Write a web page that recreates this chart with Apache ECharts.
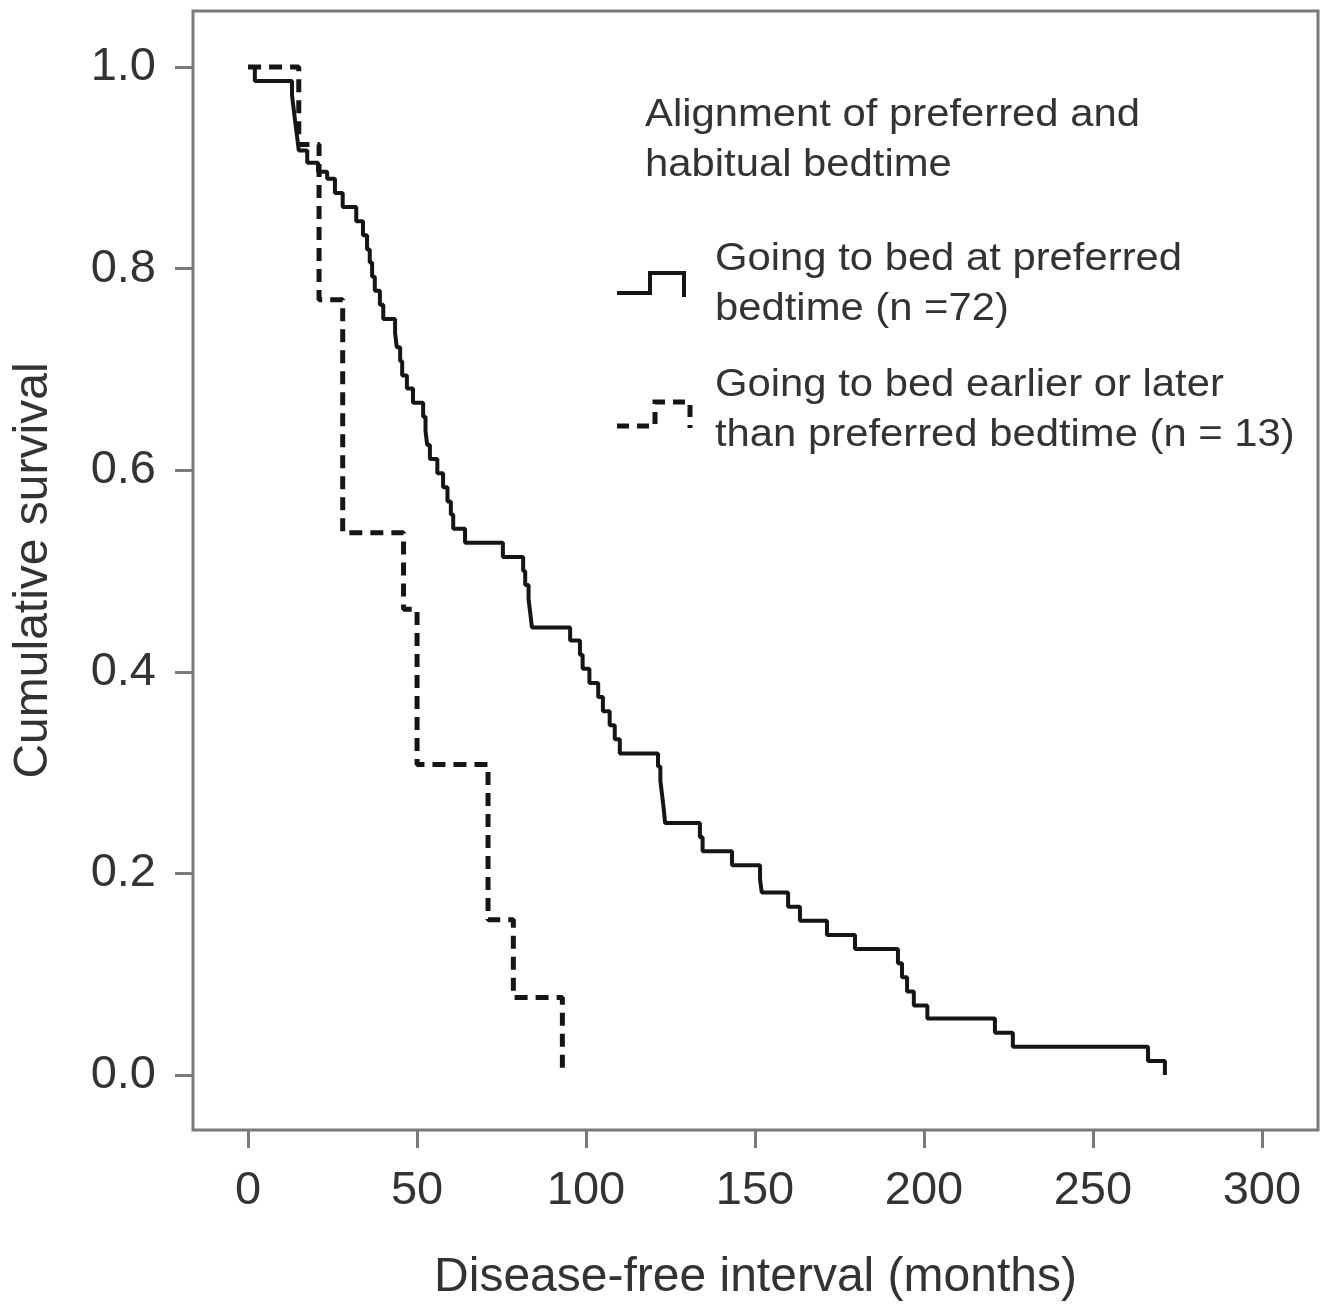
<!DOCTYPE html>
<html>
<head>
<meta charset="utf-8">
<script src="https://cdn.jsdelivr.net/npm/echarts@6/dist/echarts.min.js"></script>
<style>
html, body { margin: 0; padding: 0; background: #fff; }
#chart { width: 1329px; height: 1308px; }
</style>
</head>
<body>
<div id="chart"></div>
<script>
// ---- data ----
const xTicks = [0, 50, 100, 150, 200, 250, 300];
const yTicks = [0, 0.2, 0.4, 0.6, 0.8, 1.0];

// going to bed at preferred bedtime (n = 72)
const preferredTimes = [0, 2, 13, 13.5, 14, 14.5, 15, 17.5, 20.7, 23.4, 25.7, 28, 32, 34, 35.2, 36, 36.7, 37.5, 39, 40,
  43.5, 44, 45, 45.6, 47, 48.8, 51.8, 52.5, 53, 53.8, 56, 57.7, 59, 60, 60.7, 64.2, 75.4, 81.4, 82, 83, 83.5, 84,
  95.3, 98.2, 99, 101, 103.6, 105, 107, 108.5, 110, 121.3, 122, 122.5, 123, 123.4, 133.7, 134.5, 143.2, 151.5, 152,
  159.8, 163.3, 171.3, 179.6, 192.3, 193.5, 195, 197, 201, 221, 226.3, 266.3, 271.3];
const preferredSurv = [1, 0.986, 0.972, 0.958, 0.944, 0.931, 0.917, 0.905, 0.896, 0.889, 0.875, 0.861, 0.847, 0.833, 0.819, 0.806, 0.792, 0.778, 0.764, 0.75,
  0.736, 0.722, 0.708, 0.694, 0.681, 0.667, 0.653, 0.639, 0.625, 0.611, 0.597, 0.583, 0.569, 0.556, 0.542, 0.528, 0.514, 0.5, 0.486, 0.472, 0.458, 0.444,
  0.431, 0.417, 0.403, 0.389, 0.375, 0.361, 0.347, 0.333, 0.319, 0.306, 0.292, 0.278, 0.264, 0.25, 0.236, 0.222, 0.208, 0.194, 0.181,
  0.167, 0.153, 0.139, 0.125, 0.111, 0.097, 0.083, 0.069, 0.056, 0.042, 0.028, 0.014, 0];

// going to bed earlier or later than preferred bedtime (n = 13)
const mismatchTimes = [0, 15, 21, 28, 46, 50, 71, 78.5, 93];
const mismatchSurv = [1, 0.923, 0.769, 0.538, 0.462, 0.308, 0.154, 0.077, 0];

const FONT = '"Liberation Sans", Arial, Helvetica, sans-serif';
const TEXT = '#333333';
const FRAME = '#7a7a7a';
const INK = '#151515';

const zip = (ts, ss) => ts.map((t, i) => [t, ss[i]]);

const chart = echarts.init(document.getElementById('chart'));

// legend: title + two entries, the source type is a bit wide so stretch it
const legendText = (x, y, text) => ({
    type: 'text', x, y, scaleX: 1.1,
    style: { text, font: `38px ${FONT}`, fill: TEXT }
});

chart.setOption({
    animation: false,
    backgroundColor: '#fff',
    grid: {
        left: 193, top: 11, right: 11, bottom: 178,
        show: true, borderColor: FRAME, borderWidth: 3, backgroundColor: '#fff'
    },
    xAxis: {
        type: 'value', min: -16.3, max: 316.6,
        name: 'Disease-free interval (months)', nameLocation: 'middle', nameGap: 124,
        nameTextStyle: { fontFamily: FONT, fontSize: 48, color: TEXT },
        axisLine: { show: false, onZero: false },
        splitLine: { show: false },
        axisTick: { show: true, customValues: xTicks, length: 18, inside: false, lineStyle: { color: FRAME, width: 3 } },
        axisLabel: { customValues: xTicks, margin: 38, fontFamily: FONT, fontSize: 47, color: TEXT }
    },
    yAxis: {
        type: 'value', min: -0.0545, max: 1.0555,
        name: 'Cumulative survival', nameLocation: 'middle', nameGap: 135, nameRotate: 90,
        nameTextStyle: { fontFamily: FONT, fontSize: 48, color: TEXT },
        axisLine: { show: false, onZero: false },
        splitLine: { show: false },
        axisTick: { show: true, customValues: yTicks, length: 18, inside: false, lineStyle: { color: FRAME, width: 3 } },
        axisLabel: {
            customValues: yTicks, margin: 37, fontFamily: FONT, fontSize: 47, color: TEXT,
            formatter: v => v.toFixed(1)
        }
    },
    series: [
        {
            name: 'Going to bed at preferred bedtime (n =72)',
            type: 'line', step: 'end', symbol: 'none',
            data: zip(preferredTimes, preferredSurv),
            lineStyle: { color: INK, width: 4 }, z: 3
        },
        {
            name: 'Going to bed earlier or later than preferred bedtime (n = 13)',
            type: 'line', step: 'end', symbol: 'none',
            data: zip(mismatchTimes, mismatchSurv),
            lineStyle: { color: INK, width: 5, type: [13, 8] }, z: 4
        }
    ],
    graphic: [
        legendText(645, 97, 'Alignment of preferred and'),
        legendText(645, 147, 'habitual bedtime'),
        legendText(715, 241, 'Going to bed at preferred'),
        legendText(715, 291, 'bedtime (n =72)'),
        legendText(715, 367, 'Going to bed earlier or later'),
        legendText(715, 417, 'than preferred bedtime (n = 13)'),
        {
            type: 'polyline',
            shape: { points: [[617, 293], [650, 293], [650, 273], [684, 273], [684, 297]] },
            style: { stroke: INK, lineWidth: 4, fill: null }
        },
        {
            type: 'polyline',
            shape: { points: [[617, 426], [655, 426], [655, 402], [690, 402], [690, 428]] },
            style: { stroke: INK, lineWidth: 5, fill: null, lineDash: [12, 8] }
        }
    ]
});
</script>
</body>
</html>
